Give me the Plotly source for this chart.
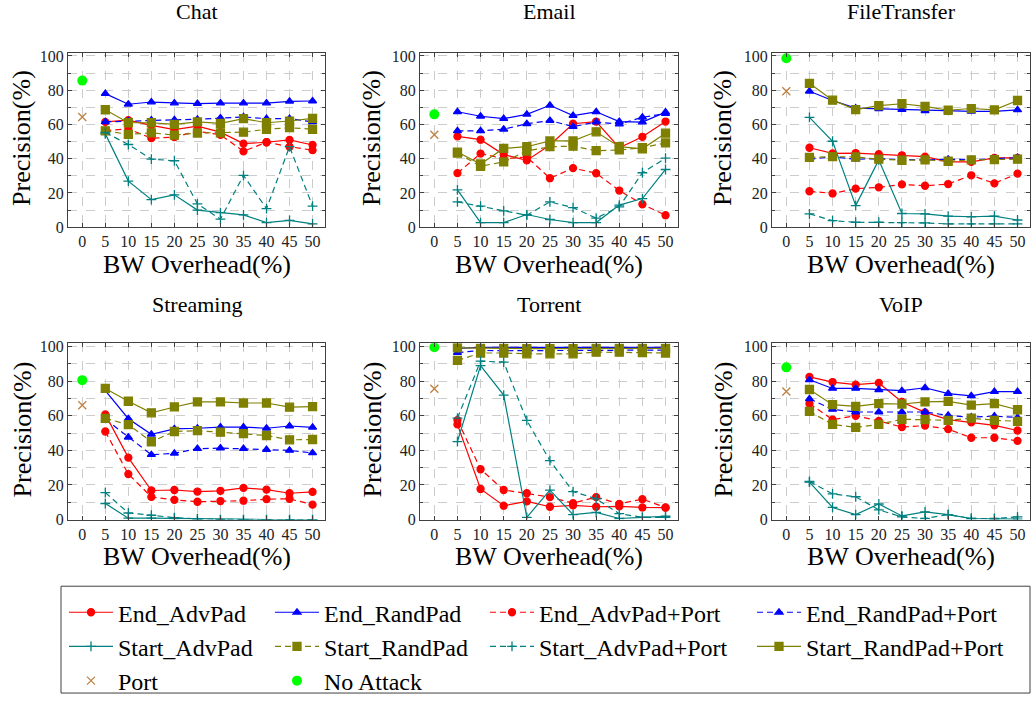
import plotly.graph_objects as go

W, H = 1033, 704

overhead = [5, 10, 15, 20, 25, 30, 35, 40, 45, 50]
x_ticks = [0, 5, 10, 15, 20, 25, 30, 35, 40, 45, 50]
y_ticks = [0, 20, 40, 60, 80, 100]

apps = ["Chat", "Email", "FileTransfer", "Streaming", "Torrent", "VoIP"]

# ---- Chat ----
chat_end_adv = [61.5, 62.5, 59.5, 57, 59, 55.5, 48.8, 49.6, 51, 48]
chat_end_rand = [78, 71.8, 73.1, 72.5, 72.2, 72.5, 72.5, 72.5, 73.5, 73.7]
chat_end_adv_port = [56.4, 57.4, 52, 52.6, 56, 54, 44.3, 49.6, 47, 45]
chat_end_rand_port = [61.5, 62, 62.5, 62.7, 63, 63.8, 64.4, 63.4, 63.4, 61.5]
chat_start_adv = [54.5, 26.9, 16.1, 18.9, 10, 8.5, 7.2, 2.7, 4, 1.9]
chat_start_rand = [56.3, 54.2, 55.1, 53.8, 55, 55.1, 55.5, 57.2, 58.1, 57.2]
chat_start_adv_port = [55.3, 48.3, 39.8, 38.8, 13.6, 4.7, 30.3, 10.8, 47, 12.3]
chat_start_rand_port = [68.6, 61, 61, 60, 61.5, 60.6, 63.4, 61, 62, 63.6]

# ---- Email ----
email_end_adv = [53, 51.1, 42.4, 39, 48, 60.4, 61.7, 46.4, 52.8, 61.7]
email_end_rand = [67.4, 64.8, 63.4, 65.9, 71.2, 65.2, 67.4, 61.7, 61.4, 67.2]
email_end_adv_port = [31.6, 43, 40, 41, 28.6, 34.5, 31.5, 21.4, 13.4, 7]
email_end_rand_port = [56.3, 56.3, 57.2, 60.4, 62.3, 58.7, 61.4, 60.2, 64.2, 66.3]
email_start_adv = [21.8, 2.7, 2.7, 7.4, 4.5, 2.7, 2.7, 12.9, 16.7, 33.7]
email_start_rand = [43.2, 35.6, 38.1, 44.5, 47, 47.3, 44.7, 45.1, 46.4, 49.2]
email_start_adv_port = [14.8, 12.3, 9.5, 7, 14.8, 11.4, 5.3, 11.9, 31.8, 40.3]
email_start_rand_port = [43.9, 36.9, 46, 47, 50.4, 50.4, 55.7, 47, 45.8, 54.9]

# ---- FileTransfer ----
ft_end_adv = [46.4, 43.1, 43.3, 42.6, 42, 41.2, 38.2, 38.2, 40.5, 40.5]
ft_end_rand = [79.4, 74, 69.5, 69.1, 68.7, 68, 67.6, 67.6, 67.6, 68.5]
ft_end_adv_port = [21, 19.7, 22.5, 23.3, 25, 24.2, 25.2, 30.3, 25.6, 31.3]
ft_end_rand_port = [39.7, 41, 39.7, 40, 39.5, 39.3, 39.7, 39.5, 40, 40.6]
ft_start_adv = [64.1, 50.2, 12.6, 39.3, 8, 7.8, 6.5, 6.1, 6.5, 4.2]
ft_start_rand = [40.8, 41.2, 41, 39.7, 39.1, 39.3, 38.5, 39.3, 39.5, 39.7]
ft_start_adv_port = [7.8, 3.8, 2.9, 2.9, 2.7, 2.5, 1.9, 1.9, 1.9, 1.9]
ft_start_rand_port = [84, 74.2, 68.7, 71, 72.1, 70.6, 68.3, 69.3, 68.5, 74]

# ---- Streaming ----
st_end_adv = [60.8, 35.8, 16.8, 17.1, 16.2, 16.6, 18.3, 17.3, 15.2, 16]
st_end_rand = [74.5, 58.3, 49.3, 52.4, 52.8, 53.5, 53.5, 52.8, 54.1, 53.3]
st_end_adv_port = [50.9, 26.3, 13.1, 11.4, 10.3, 10.7, 10.9, 11.8, 12, 8.6]
st_end_rand_port = [58, 47.6, 37.5, 38.3, 41, 41.3, 41, 40.4, 40, 38.5]
st_start_adv = [9.3, 0.8, 0.8, 0.6, 0.2, 0, 0, 0, 0, 0]
st_start_rand = [58.5, 54.9, 45, 50.9, 51.4, 50.5, 49.7, 48.6, 46.1, 46.3]
st_start_adv_port = [15.6, 3.8, 2.5, 1.1, 0.4, 0, 0, 0, 0, 0]
st_start_rand_port = [75.8, 68.4, 61.7, 65.1, 68, 68, 67.4, 67.4, 65, 65.3]

# ---- Torrent ----
tor_end_adv = [55, 17.7, 8, 10.5, 7.4, 8.2, 7.4, 7.6, 7, 6.9]
tor_end_rand = [99, 99.5, 99.5, 99.5, 99.5, 99.5, 99.5, 99.5, 99.5, 99.5]
tor_end_adv_port = [57.5, 29.1, 17.1, 15.2, 13, 9.5, 13, 9.1, 11.8, 7]
tor_end_rand_port = [96.5, 97.8, 97.6, 97.6, 97.6, 97.6, 98, 98, 98, 98]
tor_start_adv = [45.1, 89, 72, 1.3, 17, 2.9, 4.2, 0.6, 1.3, 1.9]
tor_start_rand = [92, 96.3, 96.3, 95.8, 95.8, 95.8, 96.8, 96.8, 96.5, 96.3]
tor_start_adv_port = [58.7, 91.6, 91, 57.3, 34.1, 16.2, 12, 3.4, 1.3, 1.3]
tor_start_rand_port = [99.3, 99, 99, 98.8, 98.8, 98.8, 99, 99, 99, 99]

# ---- VoIP ----
voip_end_adv = [82.5, 79.5, 78, 79, 68, 62, 57.8, 56.2, 54.5, 51.5]
voip_end_rand = [80.8, 75.8, 75.8, 75, 74.5, 76.2, 72.8, 71.5, 74, 74]
voip_end_adv_port = [67, 57.8, 60, 57, 53.5, 54.3, 52.3, 47.3, 47.3, 45.5]
voip_end_rand_port = [69.8, 63.7, 62.2, 62.2, 62.2, 62.2, 60.2, 59.2, 59.8, 59]
voip_start_adv = [21.6, 7, 2.9, 9, 2.1, 4.4, 2.9, 0.6, 0.4, 0.2]
voip_start_rand = [62.5, 55, 53.3, 55, 58, 57.8, 57.4, 58.6, 57.4, 56.8]
voip_start_adv_port = [22, 14.8, 13.2, 5.6, 1.5, 0.6, 2.9, 0.6, 0.6, 1.5]
voip_start_rand_port = [75.2, 66.4, 65.4, 67, 66.8, 68, 68.3, 66.2, 67, 63.5]

# single-point baselines at 0% overhead (one value per app, in `apps` order)
port_only = [64.4, 54, 79.4, 66.1, 75.6, 74]
no_attack = [85.6, 65.9, 98.7, 80.6, 99.6, 88]

series_names = ["End_AdvPad", "End_RandPad", "End_AdvPad+Port", "End_RandPad+Port",
                "Start_AdvPad", "Start_RandPad", "Start_AdvPad+Port", "Start_RandPad+Port"]

app_series = {
    "Chat": [chat_end_adv, chat_end_rand, chat_end_adv_port, chat_end_rand_port,
             chat_start_adv, chat_start_rand, chat_start_adv_port, chat_start_rand_port],
    "Email": [email_end_adv, email_end_rand, email_end_adv_port, email_end_rand_port,
              email_start_adv, email_start_rand, email_start_adv_port, email_start_rand_port],
    "FileTransfer": [ft_end_adv, ft_end_rand, ft_end_adv_port, ft_end_rand_port,
                     ft_start_adv, ft_start_rand, ft_start_adv_port, ft_start_rand_port],
    "Streaming": [st_end_adv, st_end_rand, st_end_adv_port, st_end_rand_port,
                  st_start_adv, st_start_rand, st_start_adv_port, st_start_rand_port],
    "Torrent": [tor_end_adv, tor_end_rand, tor_end_adv_port, tor_end_rand_port,
                tor_start_adv, tor_start_rand, tor_start_adv_port, tor_start_rand_port],
    "VoIP": [voip_end_adv, voip_end_rand, voip_end_adv_port, voip_end_rand_port,
             voip_start_adv, voip_start_rand, voip_start_adv_port, voip_start_rand_port],
}

RED, BLUE, TEAL, OLIVE = "#ff0000", "#0000ff", "#008080", "#808000"
BROWN, GREEN = "#bf8040", "#00ff00"
DASH = "6px,4px"

styles = [
    dict(color=RED, dash="solid", symbol="circle", size=7, legend="legend"),
    dict(color=BLUE, dash="solid", symbol="triangle-up", size=7, legend="legend2"),
    dict(color=RED, dash=DASH, symbol="circle", size=7, legend="legend3"),
    dict(color=BLUE, dash=DASH, symbol="triangle-up", size=7, legend="legend4"),
    dict(color=TEAL, dash="solid", symbol="cross-thin", size=7, legend="legend"),
    dict(color=OLIVE, dash=DASH, symbol="square", size=8, legend="legend2"),
    dict(color=TEAL, dash=DASH, symbol="cross-thin", size=7, legend="legend3"),
    dict(color=OLIVE, dash="solid", symbol="square", size=8, legend="legend4"),
]

# pixel boxes of the six plotting areas: (left, right, top, bottom)
col_px = [(68, 325), (420, 678), (772, 1030)]
row_px = [(48.5, 226.7), (345, 525)]

SERIF = "Liberation Serif"
fig = go.Figure()

for i, app in enumerate(apps):
    r, c = divmod(i, 3)
    ax = "" if i == 0 else str(i + 1)
    xa, ya = "x" + ax, "y" + ax
    for k, vals in enumerate(app_series[app]):
        s = styles[k]
        fig.add_trace(go.Scatter(
            x=overhead, y=vals, mode="lines+markers", name=series_names[k],
            xaxis=xa, yaxis=ya, legend=s["legend"], showlegend=(i == 0),
            line=dict(color=s["color"], width=1.2, dash=s["dash"]),
            marker=dict(symbol=s["symbol"], size=s["size"], color=s["color"],
                        line=dict(width=1.3, color=s["color"])),
        ))
    fig.add_trace(go.Scatter(
        x=[0], y=[port_only[i]], mode="markers", name="Port", xaxis=xa, yaxis=ya,
        legend="legend", showlegend=(i == 0),
        marker=dict(symbol="x-thin", size=8, color=BROWN, line=dict(width=1.3, color=BROWN)),
    ))
    fig.add_trace(go.Scatter(
        x=[0], y=[no_attack[i]], mode="markers", name="No Attack", xaxis=xa, yaxis=ya,
        legend="legend2", showlegend=(i == 0),
        marker=dict(symbol="circle", size=10, color=GREEN),
    ))

    l, rr = col_px[c]
    t, b = row_px[r]
    common = dict(showline=True, linecolor="#404040", linewidth=1, mirror="ticks",
                  ticks="inside", ticklen=4, tickcolor="#404040",
                  showgrid=True, gridcolor="#cccccc", griddash="dash", gridwidth=1,
                  zeroline=False, tickfont=dict(family=SERIF, size=16, color="#222"))
    fig.layout["xaxis" + ax] = dict(
        domain=[l / W, rr / W], anchor=ya, range=[-3.1, 52.7],
        tickvals=x_ticks, **common)
    fig.layout["yaxis" + ax] = dict(
        domain=[1 - b / H, 1 - t / H], anchor=xa, range=[0, 102],
        tickvals=y_ticks,
        minor=dict(dtick=10, showgrid=True, gridcolor="#cccccc", griddash="dash",
                   ticks="inside", ticklen=3, tickcolor="#404040"),
        **common)

    cx = (l + rr) / 2 / W
    title_y = [7, 306][r]
    fig.add_annotation(text=app, x=cx, y=1 - title_y / H, xref="paper", yref="paper",
                       showarrow=False, xanchor="center", yanchor="middle",
                       font=dict(family=SERIF, size=22, color="black"))
    xt_y = [265, 563][r]
    fig.add_annotation(text="BW Overhead(%)", x=cx, y=1 - xt_y / H, xref="paper", yref="paper",
                       showarrow=False, xanchor="center", yanchor="middle",
                       font=dict(family=SERIF, size=26, color="black"))
    yt_x = [22, 372, 723][c]
    fig.add_annotation(text="Precision(%)", x=yt_x / W, y=1 - ((t + b) / 2 - 2) / H,
                       xref="paper", yref="paper", textangle=-90,
                       showarrow=False, xanchor="center", yanchor="middle",
                       font=dict(family=SERIF, size=26, color="black"))

# legend frame
fig.add_shape(type="rect", xref="paper", yref="paper",
              x0=61 / W, x1=1030 / W, y0=1 - 702 / H, y1=1 - 593 / H,
              line=dict(color="#404040", width=1), fillcolor="rgba(0,0,0,0)")

leg_common = dict(orientation="v", yanchor="top", xanchor="left", bgcolor="rgba(0,0,0,0)",
                  borderwidth=0, itemwidth=44, tracegroupgap=0,
                  font=dict(family=SERIF, size=24, color="black"))
leg_x = [64, 270, 485, 752]
fig.update_layout(
    legend=dict(x=leg_x[0] / W, y=1 - 597 / H, **leg_common),
    legend2=dict(x=leg_x[1] / W, y=1 - 597 / H, **leg_common),
    legend3=dict(x=leg_x[2] / W, y=1 - 597 / H, **leg_common),
    legend4=dict(x=leg_x[3] / W, y=1 - 597 / H, **leg_common),
)

fig.update_layout(
    width=W, height=H, margin=dict(l=0, r=0, t=0, b=0),
    paper_bgcolor="white", plot_bgcolor="white",
    font=dict(family=SERIF, color="black"),
)

fig.write_html("out.html")
